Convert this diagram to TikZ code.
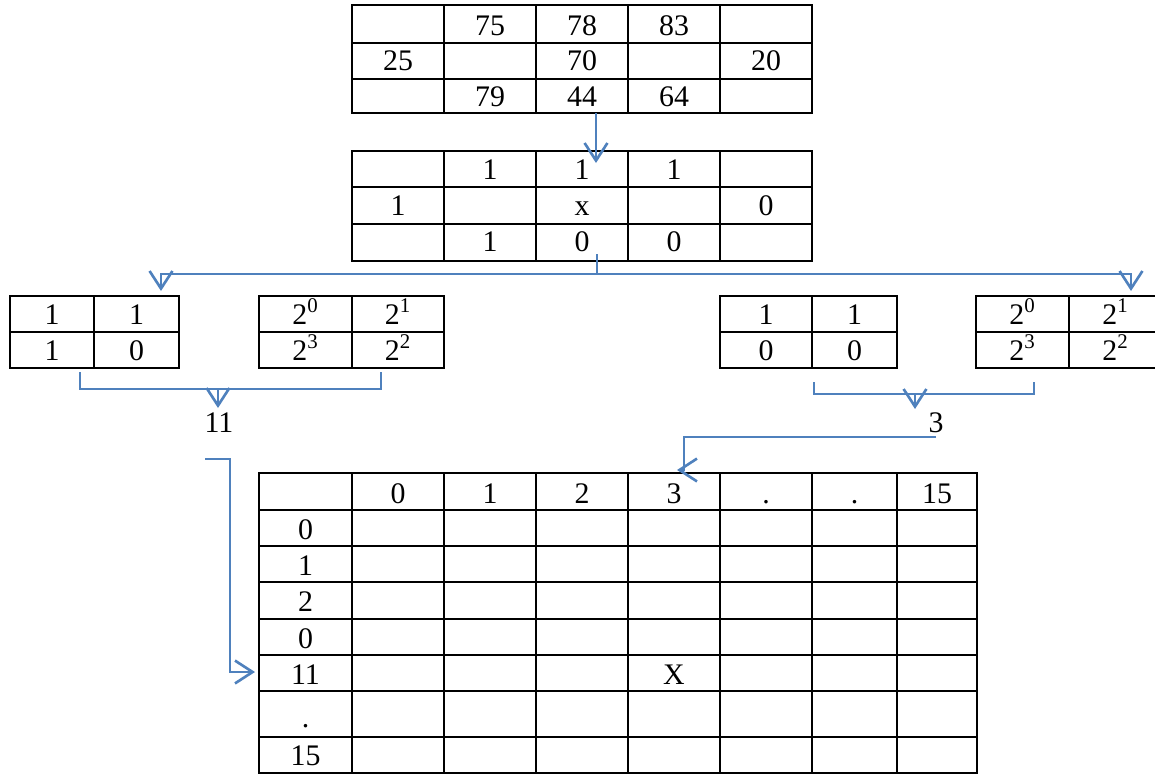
\documentclass[tikz,border=0pt]{standalone}
\usepackage{fontspec}
\setmainfont{Liberation Serif}
\usetikzlibrary{arrows.meta}
\definecolor{cblue}{HTML}{4F81BD}
\begin{document}
\begin{tikzpicture}[x=0.02cm,y=-0.02cm,
  gridline/.style={line width=1.5pt,draw=black,line cap=rect},
  conn/.style={draw=cblue,line width=1.5pt},
  tip/.style={-{Straight Barb[length=10pt,width=13pt]}},
  cell/.style={anchor=base,inner sep=0pt,font=\fontsize{17}{20}\selectfont}]
\useasboundingbox (0,0) rectangle (1155,774);
\clip (0,0) rectangle (1155,774);

% ---------- top table ----------
\draw[gridline] (352,5) rectangle (812,113);
\foreach \x in {444,536,628,720} \draw[gridline] (\x,5) -- (\x,113);
\foreach \y in {43,79} \draw[gridline] (352,\y) -- (812,\y);
\node[cell] (t75) at (490,35) {75};
\node[cell] (t78) at (582,35) {78};
\node[cell] (t83) at (674,35) {83};
\node[cell] (t25) at (398,70) {25};
\node[cell] (t70) at (582,70) {70};
\node[cell] (t20) at (766,70) {20};
\node[cell] (t79) at (490,106) {79};
\node[cell] (t44) at (582,106) {44};
\node[cell] (t64) at (674,106) {64};

% ---------- second table ----------
\draw[gridline] (352,151) rectangle (812,261);
\foreach \x in {444,536,628,720} \draw[gridline] (\x,151) -- (\x,261);
\foreach \y in {187,224} \draw[gridline] (352,\y) -- (812,\y);
\node[cell] (s1a) at (490,179) {1};
\node[cell] (s1b) at (582,179) {1};
\node[cell] (s1c) at (674,179) {1};
\node[cell] (s1d) at (398,215) {1};
\node[cell] (sx) at (582,215) {x};
\node[cell] (s0a) at (766,215) {0};
\node[cell] (s1e) at (490,251) {1};
\node[cell] (s0b) at (582,251) {0};
\node[cell] (s0c) at (674,251) {0};

% ---------- small tables ----------
% A
\draw[gridline] (10,296) rectangle (179,368);
\draw[gridline] (94,296) -- (94,368);
\draw[gridline] (10,332) -- (179,332);
\node[cell] (a11) at (52,324) {1};
\node[cell] (a12) at (136.5,324) {1};
\node[cell] (a21) at (52,360) {1};
\node[cell] (a22) at (136.5,360) {0};
% B
\draw[gridline] (259,296) rectangle (444,368);
\draw[gridline] (352,296) -- (352,368);
\draw[gridline] (259,332) -- (444,332);
\node[cell] (b11) at (305.5,324) {2\textsuperscript{0}};
\node[cell] (b12) at (398,324) {2\textsuperscript{1}};
\node[cell] (b21) at (305.5,360) {2\textsuperscript{3}};
\node[cell] (b22) at (398,360) {2\textsuperscript{2}};
% C
\draw[gridline] (720,296) rectangle (897,368);
\draw[gridline] (812,296) -- (812,368);
\draw[gridline] (720,332) -- (897,332);
\node[cell] (c11) at (766,324) {1};
\node[cell] (c12) at (854.5,324) {1};
\node[cell] (c21) at (766,360) {0};
\node[cell] (c22) at (854.5,360) {0};
% D (cut at right edge)
\draw[gridline] (1165,296) -- (976,296) -- (976,368) -- (1165,368);
\draw[gridline] (1069,296) -- (1069,368);
\draw[gridline] (976,332) -- (1165,332);
\node[cell] (d11) at (1022.5,324) {2\textsuperscript{0}};
\node[cell] (d12) at (1115.5,324) {2\textsuperscript{1}};
\node[cell] (d21) at (1022.5,360) {2\textsuperscript{3}};
\node[cell] (d22) at (1115.5,360) {2\textsuperscript{2}};

% ---------- labels ----------
\node[cell] (l11) at (219,432) {11};
\node[cell] (l3) at (936,432) {3};

% ---------- big table ----------
\draw[gridline] (259,473) rectangle (977,773);
\foreach \x in {352,444,536,628,720,812,897} \draw[gridline] (\x,473) -- (\x,773);
\foreach \y in {510,546,582,619,655,691,737} \draw[gridline] (259,\y) -- (977,\y);
\node[cell] (h0) at (398,503) {0};
\node[cell] (h1) at (490,503) {1};
\node[cell] (h2) at (582,503) {2};
\node[cell] (h3) at (674,503) {3};
\node[cell] (h4) at (766,503) {.};
\node[cell] (h5) at (854.5,503) {.};
\node[cell] (h15) at (937,503) {15};
\node[cell] (r0) at (305.5,539) {0};
\node[cell] (r1) at (305.5,575) {1};
\node[cell] (r2) at (305.5,611) {2};
\node[cell] (r3) at (305.5,648) {0};
\node[cell] (r11) at (305.5,684) {11};
\node[cell] (rd) at (305.5,727) {.};
\node[cell] (r15) at (305.5,765) {15};
\node[cell] (xx) at (674,684) {X};

% ---------- connectors ----------
\coordinate (a1s) at (596,113);
\coordinate (a1e) at (596,163);
\draw[conn,tip] (a1s) -- (a1e);

\coordinate (sp0) at (597,254);
\coordinate (sp1) at (597,274);
\coordinate (spL) at (161,291);
\coordinate (spR) at (1131,291);
\draw[conn] (sp0) -- (sp1);
\draw[conn,tip] (sp1) -| (spL);
\draw[conn,tip] (sp1) -| (spR);

\coordinate (bl1) at (80,372);
\coordinate (bl2) at (381,372);
\draw[conn] (bl1) |- (218,389) -| (bl2);
\coordinate (bls) at (218,389);
\coordinate (ble) at (218,408);
\draw[conn,tip] (bls) -- (ble);

\coordinate (br1) at (814,382);
\coordinate (br2) at (1034,382);
\draw[conn] (br1) |- (915,394) -| (br2);
\coordinate (brs) at (915,394);
\coordinate (bre) at (915,409);
\draw[conn,tip] (brs) -- (bre);

\coordinate (c3s) at (936,437);
\coordinate (c3e) at (677,470);
\draw[conn,tip] (c3s) -- (684,437) -- (684,470) -- (c3e);

\coordinate (c11s) at (205,459);
\coordinate (c11e) at (255,672);
\draw[conn,tip] (c11s) -- (230,459) -- (230,672) -- (c11e);
\end{tikzpicture}
\end{document}
